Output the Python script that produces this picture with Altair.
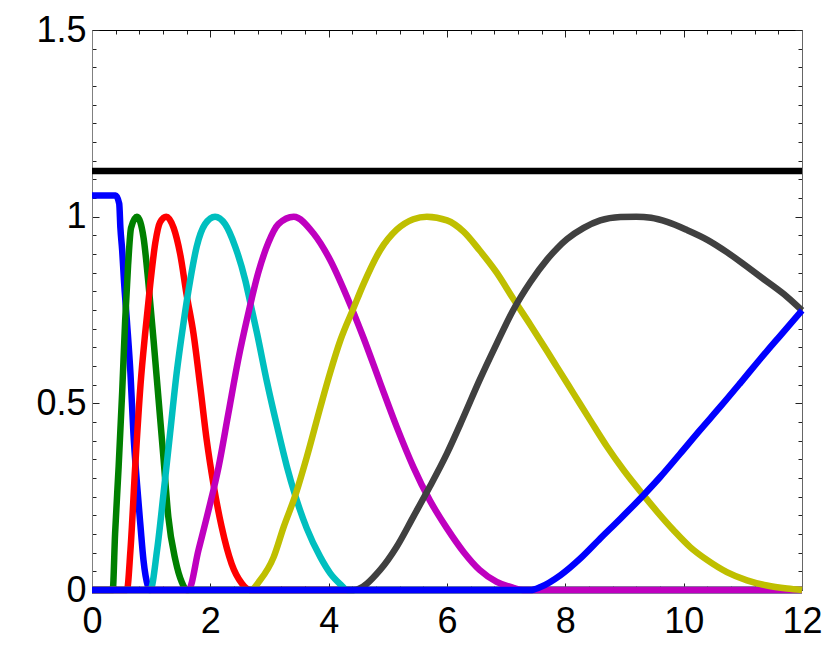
import altair as alt
import pandas as pd

# ---- data ----
series_names = ["blue1", "green", "red", "cyan", "magenta", "yellow", "gray", "blue2", "black"]
series_colors = ["#0000FF", "#008000", "#FF0000", "#00BFBF", "#BF00BF", "#BFBF00", "#404040", "#0000FF", "#000000"]

blue1_x = [0, 0.40, 0.46, 0.48, 0.51, 0.54, 0.59, 0.65, 0.70, 0.76, 0.82, 0.87, 0.945, 0.97, 12]
blue1_y = [1.057, 1.057, 1.035, 0.97, 0.91, 0.83, 0.72, 0.58, 0.42, 0.285, 0.17, 0.08, 0.01, 0, 0]

green_x = [0, 0.35, 0.39, 0.45, 0.51, 0.56, 0.61, 0.66, 0.76, 0.87, 0.955, 1.04, 1.125, 1.21, 1.29, 1.41, 1.52, 1.60, 12]
green_y = [0, 0, 0.15, 0.33, 0.53, 0.72, 0.87, 0.97, 1.0, 0.945, 0.82, 0.67, 0.51, 0.35, 0.196, 0.08, 0.02, 0, 0]

red_x = [0, 0.59, 0.65, 0.73, 0.82, 0.90, 0.985, 1.07, 1.15, 1.255, 1.38, 1.49, 1.60, 1.715, 1.83, 1.94, 2.05, 2.19, 2.36, 2.53, 2.67, 12]
red_y = [0, 0, 0.107, 0.33, 0.55, 0.69, 0.82, 0.93, 0.985, 1.0, 0.97, 0.90, 0.79, 0.687, 0.544, 0.40, 0.286, 0.17, 0.07, 0.018, 0, 0]

cyan_x = [0, 0.985, 1.10, 1.21, 1.32, 1.43, 1.545, 1.66, 1.77, 1.91, 2.08, 2.25, 2.42, 2.59, 2.675, 2.79, 2.96, 3.13, 3.295, 3.435, 3.63, 3.86, 4.03, 4.20, 4.31, 12]
cyan_y = [0, 0, 0.107, 0.26, 0.42, 0.58, 0.714, 0.83, 0.92, 0.98, 1.0, 0.98, 0.92, 0.83, 0.77, 0.687, 0.555, 0.437, 0.33, 0.253, 0.165, 0.088, 0.044, 0.015, 0, 0]

magenta_x = [0, 1.63, 1.80, 1.97, 2.14, 2.305, 2.47, 2.64, 2.81, 2.98, 3.15, 3.41, 3.745, 4.025, 4.31, 4.59, 4.87, 5.15, 5.43, 5.71, 6.0, 6.28, 6.55, 6.84, 7.12, 7.28, 12]
magenta_y = [0, 0, 0.107, 0.214, 0.33, 0.473, 0.616, 0.74, 0.85, 0.93, 0.98, 1.0, 0.955, 0.884, 0.785, 0.675, 0.555, 0.437, 0.33, 0.24, 0.165, 0.102, 0.054, 0.022, 0.006, 0, 0]

yellow_x = [0, 2.675, 2.84, 3.07, 3.24, 3.435, 3.63, 3.86, 4.03, 4.20, 4.42, 4.59, 4.87, 5.15, 5.43, 5.66, 6.0, 6.28, 6.55, 6.84, 7.12, 7.41, 7.69, 7.86, 8.14, 8.42, 8.70, 8.99, 9.32, 9.55, 9.83, 10.11, 10.40, 10.73, 11.07, 11.41, 11.75, 12]
yellow_y = [0, 0, 0.026, 0.088, 0.169, 0.253, 0.356, 0.49, 0.585, 0.67, 0.755, 0.82, 0.91, 0.965, 0.993, 1.0, 0.99, 0.96, 0.91, 0.85, 0.78, 0.71, 0.64, 0.597, 0.526, 0.455, 0.385, 0.32, 0.254, 0.21, 0.16, 0.115, 0.08, 0.048, 0.026, 0.012, 0.004, 0]

gray_x = [0, 4.42, 4.87, 5.15, 5.43, 5.71, 6.0, 6.28, 6.55, 6.84, 7.12, 7.41, 7.69, 7.86, 8.03, 8.31, 8.59, 8.93, 9.2, 9.45, 9.72, 10.06, 10.40, 10.73, 11.07, 11.41, 11.75, 12]
gray_y = [0, 0, 0.054, 0.116, 0.196, 0.277, 0.366, 0.464, 0.562, 0.66, 0.75, 0.825, 0.885, 0.915, 0.94, 0.97, 0.99, 0.999, 1.0, 0.997, 0.986, 0.964, 0.938, 0.905, 0.866, 0.826, 0.785, 0.749]

blue2_x = [0, 7.41, 7.58, 7.92, 8.25, 8.59, 8.93, 9.32, 9.60, 9.94, 10.28, 10.62, 10.96, 11.29, 11.63, 12]
blue2_y = [0, 0, 0.008, 0.04, 0.084, 0.138, 0.191, 0.254, 0.302, 0.365, 0.429, 0.491, 0.555, 0.618, 0.681, 0.749]

black_x = [0, 12]
black_y = [1.122, 1.122]

x_labels = [0, 2, 4, 6, 8, 10, 12]
y_labels = [0, 0.5, 1, 1.5]
x_minor = [round(0.4 * i, 2) for i in range(31)]
y_minor = [round(0.05 * i, 2) for i in range(31)]

series_data = {
    "blue1": (blue1_x, blue1_y), "green": (green_x, green_y), "red": (red_x, red_y),
    "cyan": (cyan_x, cyan_y), "magenta": (magenta_x, magenta_y), "yellow": (yellow_x, yellow_y),
    "gray": (gray_x, gray_y), "blue2": (blue2_x, blue2_y), "black": (black_x, black_y),
}

W, H = 710, 560
FONT = "Liberation Sans"
xs = alt.Scale(domain=[0, 12], nice=False, zero=False)
ys = alt.Scale(domain=[0, 1.5], nice=False, zero=False)

x_major_test = "abs(datum.value/2 - round(datum.value/2)) < 0.001"
y_major_test = "abs(datum.value*2 - round(datum.value*2)) < 0.001"

def tick_size(test):
    return {"condition": {"test": test, "value": 7}, "value": 4}

# axis sets
axA_x = alt.Axis(orient="bottom", values=x_labels, ticks=False, tickSize=0, domain=False, grid=False,
                 title=None, labelFont=FONT, labelFontSize=36, labelPadding=14, labelColor="#000",
                 labelFlush=False, labelOverlap=False)
axA_y = alt.Axis(orient="left", values=y_labels, ticks=False, tickSize=0, domain=False, grid=False,
                 title=None, labelFont=FONT, labelFontSize=36, labelPadding=6, labelColor="#000",
                 format="~g", labelFlush=False, labelOverlap=False)
# bottom frame with inward ticks (top-orient axis moved to bottom)
axB_x = alt.Axis(orient="top", offset=-H, values=x_minor, labels=False, grid=False, title=None,
                 tickSize=tick_size(x_major_test), tickColor="#222", domain=True, domainColor="#000")
# left frame with inward ticks (right-orient axis moved to left)
axB_y = alt.Axis(orient="right", offset=-W, values=y_minor, labels=False, grid=False, title=None,
                 tickSize=tick_size(y_major_test), tickColor="#222", domain=True, domainColor="#808080")
# top frame with inward ticks
axC_x = alt.Axis(orient="bottom", offset=-H, values=x_minor, labels=False, grid=False, title=None,
                 tickSize=tick_size(x_major_test), tickColor="#222", domain=True, domainColor="#000")
# right frame with inward ticks
axC_y = alt.Axis(orient="left", offset=-W, values=y_minor, labels=False, grid=False, title=None,
                 tickSize=tick_size(y_major_test), tickColor="#222", domain=True, domainColor="#666")

axis_sets = {"blue1": (axA_x, axA_y), "green": (axB_x, axB_y), "red": (axC_x, axC_y)}

layers = []
for name, color in zip(series_names, series_colors):
    sx, sy = series_data[name]
    df = pd.DataFrame({"x": sx, "y": sy})
    ax_x, ax_y = axis_sets.get(name, (None, None))
    layer = alt.Chart(df).mark_line(
        stroke=color, strokeWidth=6.5, interpolate="monotone", clip=False
    ).encode(
        x=alt.X("x:Q", scale=xs, axis=ax_x),
        y=alt.Y("y:Q", scale=ys, axis=ax_y),
    )
    layers.append(layer)

chart = alt.layer(*layers).resolve_axis(x="independent", y="independent").properties(
    width=W, height=H,
    autosize=alt.AutoSizeParams(type="none"),
    padding={"left": 84, "top": 22, "right": 21, "bottom": 61},
    background="white",
).configure_view(stroke=None)

chart.save("out.html", embed_options={"renderer": "svg", "actions": False})
